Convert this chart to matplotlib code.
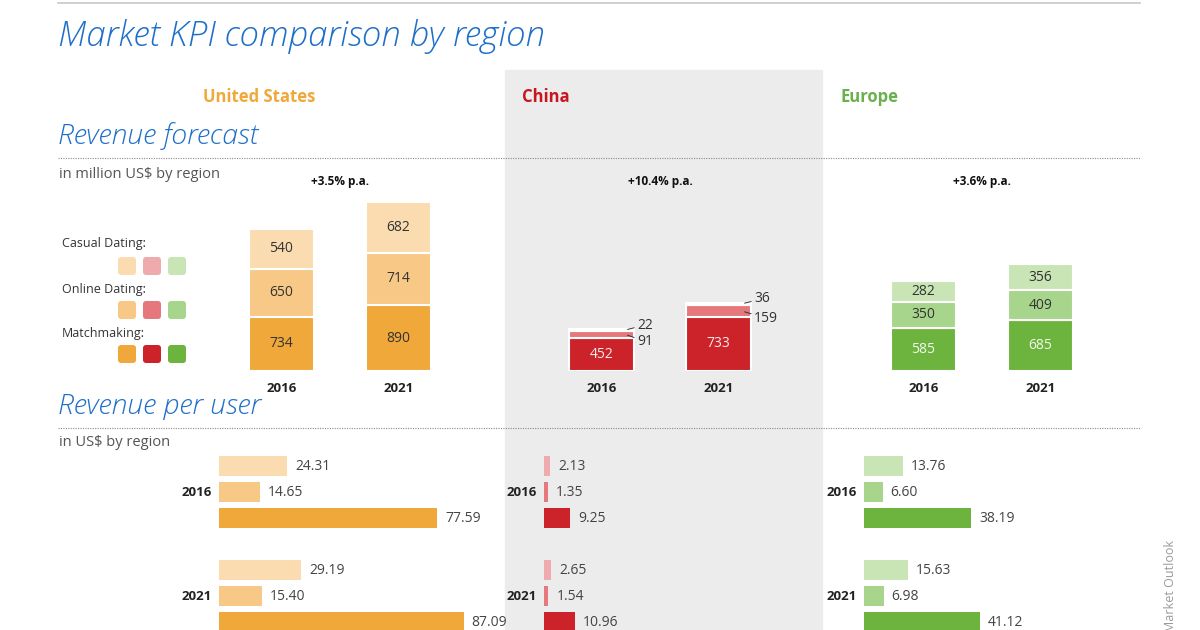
import matplotlib.pyplot as plt
from matplotlib.patches import FancyBboxPatch, Rectangle

plt.rcParams['font.family'] = ['Open Sans', 'DejaVu Sans']

# data
regions = ["United States", "China", "Europe"]
years = ["2016", "2021"]
segments = ["Casual Dating", "Online Dating", "Matchmaking"]
growth = ["+3.5% p.a.", "+10.4% p.a.", "+3.6% p.a."]

us_casual = [540, 682]
us_online = [650, 714]
us_match = [734, 890]
cn_casual = [22, 36]
cn_online = [91, 159]
cn_match = [452, 733]
eu_casual = [282, 356]
eu_online = [350, 409]
eu_match = [585, 685]

# revenue per user, order: casual, online, matchmaking
us_arpu_2016 = [24.31, 14.65, 77.59]
us_arpu_2021 = [29.19, 15.40, 87.09]
cn_arpu_2016 = [2.13, 1.35, 9.25]
cn_arpu_2021 = [2.65, 1.54, 10.96]
eu_arpu_2016 = [13.76, 6.60, 38.19]
eu_arpu_2021 = [15.63, 6.98, 41.12]

revenue = [
    (us_casual, us_online, us_match),
    (cn_casual, cn_online, cn_match),
    (eu_casual, eu_online, eu_match),
]
arpu = [
    (us_arpu_2016, us_arpu_2021),
    (cn_arpu_2016, cn_arpu_2021),
    (eu_arpu_2016, eu_arpu_2021),
]

# colours: casual, online, matchmaking
palette = [
    ["#fadcb0", "#f7c886", "#f0a83a"],
    ["#eeaaac", "#e5787c", "#cc2229"],
    ["#c9e5b5", "#a8d58c", "#6db43f"],
]
head_colors = ["#f0a83a", "#c8161e", "#6ab04c"]
blue = "#1e6fc8"
W, H = 1200, 630

fig = plt.figure(figsize=(12, 6.3), dpi=100)
bg = fig.add_axes([0, 0, 1, 1])
bg.set_xlim(0, W)
bg.set_ylim(H, 0)
bg.axis("off")


def px_axes(x0, top, w, h):
    ax = fig.add_axes([x0 / W, 1 - (top + h) / H, w / W, h / H])
    ax.patch.set_alpha(0)
    for s in ax.spines.values():
        s.set_visible(False)
    return ax


# China panel
bg.add_patch(Rectangle((505, 70), 317, 560, color="#ececec", zorder=0))
bg.plot([58, 1140], [3, 3], color="#c8c8c8", lw=1.2)
for yy in (158, 428):
    bg.plot([58, 1140], [yy, yy], color="#8a8a8a", lw=0.8, ls=(0, (1, 1.2)))

bg.text(58, 37, "Market KPI comparison by region", color=blue, fontsize=25,
        style="italic", fontweight="light", va="center", ha="left")
bg.text(58, 136, "Revenue forecast", color=blue, fontsize=20.5, style="italic",
        fontweight="light", va="center")
bg.text(58, 406, "Revenue per user", color=blue, fontsize=20.5, style="italic",
        fontweight="light", va="center")
bg.text(59, 174, "in million US$ by region", color="#555555", fontsize=10.5, va="center")
bg.text(59, 443, "in US$ by region", color="#555555", fontsize=10.5, va="center")
bg.text(1171, 540, "Market Outlook", color="#9a9a9a", fontsize=9, rotation=90,
        ha="center", va="top")

for name, hx, c in zip(regions, [203, 522, 840], head_colors):
    bg.text(hx, 97, name, color=c, fontsize=12, fontweight="bold", va="center")

# legend
for i, (seg, ly) in enumerate(zip(segments, [244, 289, 333])):
    bg.text(62, ly, seg + ":", color="#333333", fontsize=9, va="center")
    for j in range(3):
        bg.add_patch(FancyBboxPatch((119 + 25 * j, 258 + 44 * i), 16, 16,
                                    boxstyle="round,pad=1,rounding_size=3",
                                    color=palette[j][i], lw=0))

# revenue stacked bars
scale_rev = 0.0738  # px per million
centers = [340, 660, 982]
for r in range(3):
    casual, online, match = revenue[r]
    ax = px_axes(centers[r] - 117, 171, 234, 200)
    ax.set_xlim(-0.5, 1.5)
    ax.set_ylim(0, 200 / scale_rev)
    xs = range(len(years))
    bottoms = [0, 0]
    for k, vals in [(2, match), (1, online), (0, casual)]:
        ax.bar(xs, vals, 0.556, bottom=bottoms, color=palette[r][k],
               edgecolor="white", lw=1.5)
        for x, v, b in zip(xs, vals, bottoms):
            if v * scale_rev > 15:
                tc = "#333333"
                if k == 2 and r > 0:
                    tc = "#fbecec" if r == 1 else "#f2f9ee"
                ax.text(x, b + v / 2, str(v), ha="center", va="center",
                        fontsize=10, color=tc)
            else:
                dy = 5 if k == 0 else -7
                ax.annotate(str(v), xy=(x + 0.2, b + v / 2), xytext=(12, dy),
                            textcoords="offset pixels", ha="left", va="center",
                            fontsize=10, color="#333333",
                            arrowprops=dict(arrowstyle="-", color="#333333",
                                            lw=0.7, shrinkA=0, shrinkB=2))
        bottoms = [b + v for b, v in zip(bottoms, vals)]
    ax.set_xticks(list(xs), years, fontsize=9.5, fontweight="bold", color="#222222")
    ax.tick_params(axis="x", length=0, pad=8)
    ax.set_yticks([])
    bg.text(centers[r], 181, growth[r], ha="center", va="center", fontsize=8.5,
            fontweight="bold", color="#111111")

# revenue per user horizontal bars
scale_arpu = 2.81  # px per US$
lefts = [219, 544, 864]
for r in range(3):
    ax = px_axes(lefts[r], 453, 300, 182)
    ax.set_xlim(0, 300 / scale_arpu)
    ax.set_ylim(6.5, -0.5)
    ax.set_xticks([])
    ax.set_yticks([])
    for g, vals in enumerate(arpu[r]):
        rows = [g * 4 + s for s in range(3)]
        ax.barh(rows, vals, 0.77, color=palette[r], lw=0)
        for row, v in zip(rows, vals):
            ax.annotate(f"{v:.2f}", xy=(v, row), xytext=(8, 0),
                        textcoords="offset pixels", ha="left", va="center",
                        fontsize=10, color="#444444", annotation_clip=False)
        ax.annotate(years[g], xy=(0, rows[1]), xytext=(-7, 0),
                    textcoords="offset pixels", ha="right", va="center",
                    fontsize=9.5, fontweight="bold", color="#222222")

fig.savefig("out.png", dpi=100)
